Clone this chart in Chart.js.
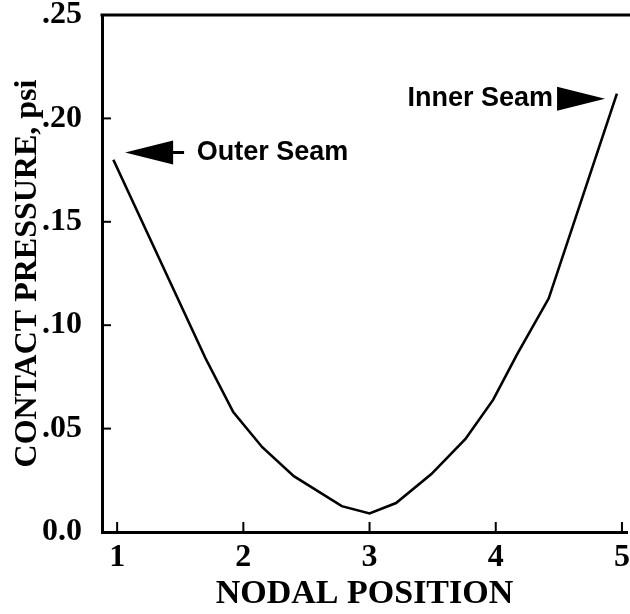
<!DOCTYPE html>
<html>
<head>
<meta charset="utf-8">
<title>Contact pressure vs nodal position</title>
<script src="https://cdn.jsdelivr.net/npm/chart.js@4/dist/chart.umd.min.js"></script>
<style>
  html, body { margin: 0; padding: 0; background: #fff; overflow: hidden; }
  #chart { display: block; }
</style>
</head>
<body>
<canvas id="chart" width="630" height="614"></canvas>
<script>
// Values
const nodalPosition = [0.97, 1.70, 1.92, 2.15, 2.40, 2.78, 3.00, 3.21, 3.49, 3.76, 3.98, 4.17, 4.42, 4.96];
const contactPressure = [0.180, 0.084, 0.058, 0.041, 0.027, 0.0125, 0.009, 0.014, 0.028, 0.045, 0.064, 0.086, 0.113, 0.212];

// Axis ticks
const xTickValues = [1, 2, 3, 4, 5];
const yTickValues = [0, 0.05, 0.10, 0.15, 0.20, 0.25];
const yTickLabels = ['0.0', '.05', '.10', '.15', '.20', '.25'];

// Callouts (data coordinates)
const callouts = [
  { text: 'Outer Seam', textX: 1.63, textY: 0.1835, tipX: 1.063, dir: -1 },
  { text: 'Inner Seam', textX: 3.30, textY: 0.2095, tipX: 4.866, dir: 1 }
];

const serif = '"Liberation Serif", "Times New Roman", serif';
const sans = '"Liberation Sans", Arial, sans-serif';

// Draws the top frame line, inward tick marks and the seam callouts
const frameAndCallouts = {
  id: 'frameAndCallouts',
  afterDraw(chart) {
    const { ctx, chartArea, scales } = chart;
    ctx.save();
    ctx.strokeStyle = '#000';
    ctx.fillStyle = '#000';

    // top frame line
    ctx.lineWidth = 3;
    ctx.beginPath();
    ctx.moveTo(chartArea.left - 1.5, chartArea.top);
    ctx.lineTo(chart.width, chartArea.top);
    ctx.stroke();

    // inward ticks
    ctx.lineWidth = 2;
    yTickValues.slice(1, -1).forEach(v => {
      const y = scales.y.getPixelForValue(v);
      ctx.beginPath();
      ctx.moveTo(chartArea.left, y);
      ctx.lineTo(chartArea.left + 9, y);
      ctx.stroke();
    });
    xTickValues.forEach(v => {
      const x = scales.x.getPixelForValue(v);
      ctx.beginPath();
      ctx.moveTo(x, chartArea.bottom);
      ctx.lineTo(x, chartArea.bottom - 10);
      ctx.stroke();
    });

    // callouts
    ctx.font = 'bold 27px ' + sans;
    ctx.textBaseline = 'middle';
    ctx.textAlign = 'left';
    callouts.forEach(c => {
      const tx = scales.x.getPixelForValue(c.textX);
      const ty = scales.y.getPixelForValue(c.textY);
      ctx.fillText(c.text, tx, ty);

      const tip = scales.x.getPixelForValue(c.tipX);
      const back = tip - c.dir * 48;
      ctx.beginPath();
      ctx.moveTo(tip, ty);
      ctx.lineTo(back, ty - 12);
      ctx.lineTo(back, ty + 12);
      ctx.closePath();
      ctx.fill();
      if (c.dir < 0) {
        ctx.lineWidth = 3;
        ctx.beginPath();
        ctx.moveTo(back - 2, ty);
        ctx.lineTo(back + 11, ty);
        ctx.stroke();
      }
    });
    ctx.restore();
  }
};

Chart.defaults.color = '#000';

new Chart(document.getElementById('chart'), {
  type: 'line',
  data: {
    datasets: [{
      data: nodalPosition.map((x, i) => ({ x: x, y: contactPressure[i] })),
      borderColor: '#000',
      borderWidth: 2.6,
      pointRadius: 0,
      tension: 0,
      fill: false
    }]
  },
  options: {
    responsive: false,
    animation: false,
    devicePixelRatio: 1,
    layout: { padding: { top: 15, right: 3, left: 0, bottom: 0 } },
    plugins: {
      legend: { display: false },
      tooltip: { enabled: false }
    },
    scales: {
      x: {
        type: 'linear',
        min: 0.88,
        max: 5.04,
        grid: { display: false },
        border: { display: true, color: '#000', width: 3 },
        afterBuildTicks: scale => { scale.ticks = xTickValues.map(v => ({ value: v })); },
        afterFit: scale => {
          scale.height = 82;
          scale.paddingLeft = 0;
          scale.paddingRight = 0;
        },
        ticks: {
          autoSkip: false,
          maxRotation: 0,
          padding: 2,
          font: { family: serif, size: 32, weight: 'bold', lineHeight: 1 },
          callback: value => String(value)
        },
        title: {
          display: true,
          text: 'NODAL POSITION',
          font: { family: serif, size: 34, weight: 'bold', lineHeight: 1 },
          padding: { top: 0, bottom: 3 }
        }
      },
      y: {
        min: 0,
        max: 0.25,
        grid: { display: false },
        border: { display: true, color: '#000', width: 3 },
        afterBuildTicks: scale => { scale.ticks = yTickValues.map(v => ({ value: v })); },
        afterFit: scale => {
          scale.width = 102;
          scale.paddingTop = 0;
          scale.paddingBottom = 0;
        },
        ticks: {
          autoSkip: false,
          padding: 12,
          font: { family: serif, size: 32, weight: 'bold', lineHeight: 1 },
          callback: (value, index) => yTickLabels[index]
        },
        title: {
          display: true,
          text: 'CONTACT PRESSURE, psi',
          font: { family: serif, size: 32, weight: 'bold', lineHeight: 1 },
          padding: { top: 12, bottom: 0 }
        }
      }
    }
  },
  plugins: [frameAndCallouts]
});
</script>
</body>
</html>
